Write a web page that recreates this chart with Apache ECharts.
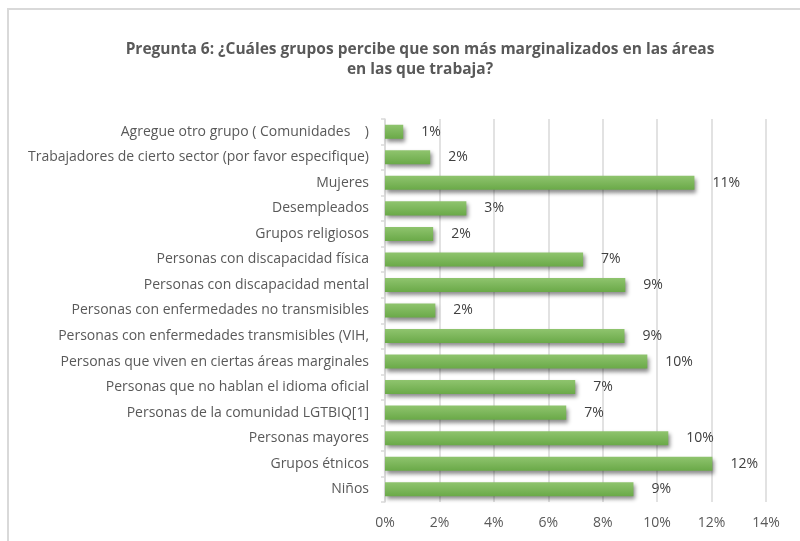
<!DOCTYPE html>
<html>
<head>
<meta charset="utf-8">
<script src="https://cdn.jsdelivr.net/npm/echarts@6/dist/echarts.min.js"></script>
<style>html,body{margin:0;padding:0;background:#fff;}#c{width:800px;height:541px;}</style>
</head>
<body>
<div id="c"></div>
<script>
const categories = [
  "Agregue otro grupo ( Comunidades    )",
  "Trabajadores de cierto sector (por favor especifique)",
  "Mujeres",
  "Desempleados",
  "Grupos religiosos",
  "Personas con discapacidad física",
  "Personas con discapacidad mental",
  "Personas con enfermedades no transmisibles",
  "Personas con enfermedades transmisibles (VIH,",
  "Personas que viven en ciertas áreas marginales",
  "Personas que no hablan el idioma oficial",
  "Personas de la comunidad LGTBIQ[1]",
  "Personas mayores",
  "Grupos étnicos",
  "Niños"
];
const values = [0.67, 1.66, 11.37, 2.99, 1.77, 7.28, 8.83, 1.85, 8.80, 9.64, 6.99, 6.66, 10.41, 12.03, 9.13];
const titleText = "Pregunta 6: ¿Cuáles grupos percibe que son más marginalizados en las áreas\nen las que trabaja?";

const chart = echarts.init(document.getElementById('c'));
const FONT = '"Open Sans", "Noto Sans", sans-serif';
chart.setOption({
  animation: false,
  backgroundColor: '#fff',
  graphic: [{
    type: 'rect', shape: {x: 8, y: 9, width: 800, height: 540},
    style: {fill: 'none', stroke: '#d9d9d9', lineWidth: 2}, silent: true
  }],
  title: {
    text: titleText, left: 415, top: 35, textAlign: 'center',
    textStyle: {fontFamily: FONT, fontSize: 15.5, fontWeight: 'bold', color: '#595959', lineHeight: 20}
  },
  grid: {left: 385, right: 34, top: 119, bottom: 39, containLabel: false},
  xAxis: {
    type: 'value', min: 0, max: 14, interval: 2,
    axisLabel: {formatter: v => v + '%', color: '#595959', fontFamily: FONT, fontSize: 14, margin: 14},
    axisLine: {show: false}, axisTick: {show: false},
    splitLine: {lineStyle: {color: '#d9d9d9', width: 1.5}}
  },
  yAxis: {
    type: 'category', data: categories, inverse: true,
    axisLabel: {color: '#595959', fontFamily: FONT, fontSize: 14, margin: 16},
    axisLine: {lineStyle: {color: '#d9d9d9', width: 1.5}},
    axisTick: {show: true, length: 4, lineStyle: {color: '#d9d9d9', width: 1.5}}
  },
  series: [{
    type: 'bar', data: values, barCategoryGap: '45%',
    itemStyle: {
      color: new echarts.graphic.LinearGradient(0, 0, 0, 1, [
        {offset: 0, color: '#8fc46e'}, {offset: 1, color: '#6aa948'}
      ]),
      shadowColor: 'rgba(0,0,0,0.45)', shadowBlur: 4, shadowOffsetX: 2, shadowOffsetY: 3
    },
    label: {
      show: true, position: 'right', distance: 18,
      formatter: p => Math.round(p.value) + '%',
      color: '#404040', fontFamily: FONT, fontSize: 14
    }
  }]
});
</script>
</body>
</html>
